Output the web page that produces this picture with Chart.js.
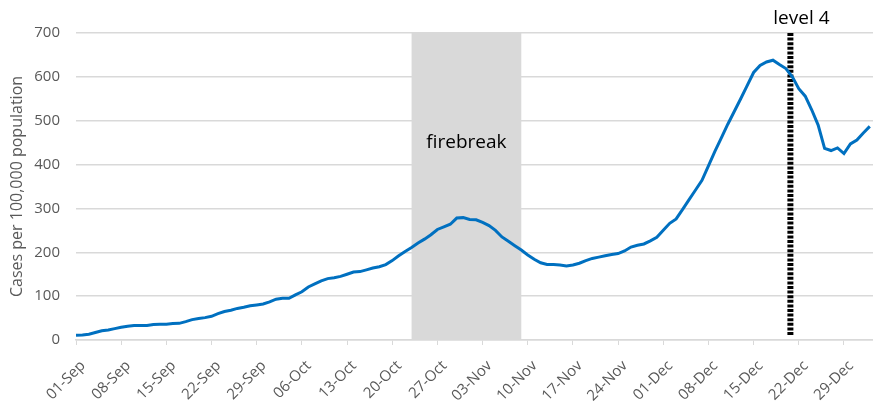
<!DOCTYPE html>
<html>
<head>
<meta charset="utf-8">
<script src="https://cdn.jsdelivr.net/npm/chart.js@4.4.1/dist/chart.umd.min.js"></script>
<style>
    html, body { margin: 0; padding: 0; background: #ffffff; }
</style>
</head>
<body>
<canvas id="casesChart" width="873" height="401"></canvas>
<script>
// Cases per 100,000 population, one value per day starting 01-Sep
const cases = [
    11, 11.5, 13, 17, 21, 23, 26, 29, 31.5, 33, 33, 33, 35.5, 36, 36, 37.5, 38, 42, 46.5, 49,
    51, 54, 60, 65, 68, 72, 74.5, 78, 80, 82, 87, 93, 95, 95, 103, 110, 121, 128, 135, 140,
    142, 145, 150, 155, 156, 160, 164, 167, 172, 181, 192, 202, 211, 221, 230, 240, 252, 258, 264, 278,
    279, 275, 274, 268, 261, 250, 235, 225, 215, 205, 194, 184, 176, 172, 172, 171, 169, 171, 175, 181,
    186, 189, 192, 195, 197, 203, 212, 216, 219, 226, 234, 250, 266, 276, 298, 320, 342, 364, 397, 430,
    461, 492, 521, 550, 580, 610, 626, 634, 638, 628, 619, 600, 573, 556, 525, 490, 437, 432, 438, 425,
    447, 456, 472, 487
];

// weekly tick labels (day offset from 01-Sep = index * 7)
const tickLabels = [
    '01-Sep', '08-Sep', '15-Sep', '22-Sep', '29-Sep', '06-Oct', '13-Oct', '20-Oct', '27-Oct',
    '03-Nov', '10-Nov', '17-Nov', '24-Nov', '01-Dec', '08-Dec', '15-Dec', '22-Dec', '29-Dec'
];
const yTicks = [0, 100, 200, 300, 400, 500, 600, 700];

// firebreak 23-Oct to 09-Nov, level 4 from 20-Dec (day offsets)
const firebreakStart = 52;
const firebreakEnd = 69;
const levelFourDay = 110.7;

const grey = '#595959';
const gridGrey = '#d9d9d9';
const fontFamily = '"Open Sans", "Liberation Sans", sans-serif';

const annotations = {
    id: 'annotations',
    beforeDatasetsDraw(chart) {
        const { ctx, chartArea, scales: { x, y } } = chart;
        const left = x.getPixelForValue(firebreakStart);
        const right = x.getPixelForValue(firebreakEnd);

        ctx.save();
        // shaded firebreak period
        ctx.fillStyle = gridGrey;
        ctx.fillRect(left, chartArea.top, right - left, chartArea.bottom - chartArea.top);
        ctx.fillStyle = '#000000';
        ctx.font = '19px ' + fontFamily;
        ctx.textAlign = 'center';
        ctx.textBaseline = 'middle';
        ctx.fillText('firebreak', (left + right) / 2, y.getPixelForValue(450));

        // level 4 marker
        const lx = x.getPixelForValue(levelFourDay);
        ctx.strokeStyle = '#000000';
        ctx.lineWidth = 6;
        ctx.setLineDash([3, 1.6]);
        ctx.beginPath();
        ctx.moveTo(lx, chartArea.top);
        ctx.lineTo(lx, chartArea.bottom - 4);
        ctx.stroke();
        ctx.setLineDash([]);
        ctx.fillText('level 4', lx + 11, chartArea.top - 14);
        ctx.restore();
    }
};

const ctx = document.getElementById('casesChart').getContext('2d');
new Chart(ctx, {
    type: 'line',
    data: {
        datasets: [{
            data: cases.map((v, i) => ({ x: i, y: v })),
            borderColor: '#0070c0',
            borderWidth: 3,
            pointRadius: 0,
            fill: false,
            tension: 0
        }]
    },
    options: {
        responsive: false,
        animation: false,
        layout: { padding: { top: 33, right: 0, bottom: 0, left: 0 } },
        plugins: {
            legend: { display: false },
            tooltip: { enabled: false }
        },
        scales: {
            x: {
                type: 'linear',
                min: 0,
                max: 123.5,
                afterBuildTicks: scale => {
                    scale.ticks = tickLabels.map((t, i) => ({ value: i * 7 }));
                },
                afterFit: scale => { scale.height = 61; },
                grid: {
                    drawOnChartArea: false,
                    drawTicks: true,
                    tickLength: 5,
                    color: gridGrey
                },
                border: { color: gridGrey, width: 1.5 },
                ticks: {
                    autoSkip: false,
                    minRotation: 45,
                    maxRotation: 45,
                    padding: 12,
                    labelOffset: 7,
                    color: grey,
                    font: { family: fontFamily, size: 15 },
                    callback: value => tickLabels[Math.round(value / 7)]
                }
            },
            y: {
                min: 0,
                max: 700,
                afterBuildTicks: scale => {
                    scale.ticks = yTicks.map(v => ({ value: v }));
                },
                afterFit: scale => { scale.width = 76; },
                grid: {
                    color: gridGrey,
                    lineWidth: 1.5,
                    drawTicks: false
                },
                border: { display: false },
                ticks: {
                    padding: 16,
                    color: grey,
                    font: { family: fontFamily, size: 15 }
                },
                title: {
                    display: true,
                    text: 'Cases per 100,000 population',
                    color: grey,
                    padding: { top: 8, bottom: 0 },
                    font: { family: fontFamily, size: 16 }
                }
            }
        }
    },
    plugins: [annotations]
});
</script>
</body>
</html>
